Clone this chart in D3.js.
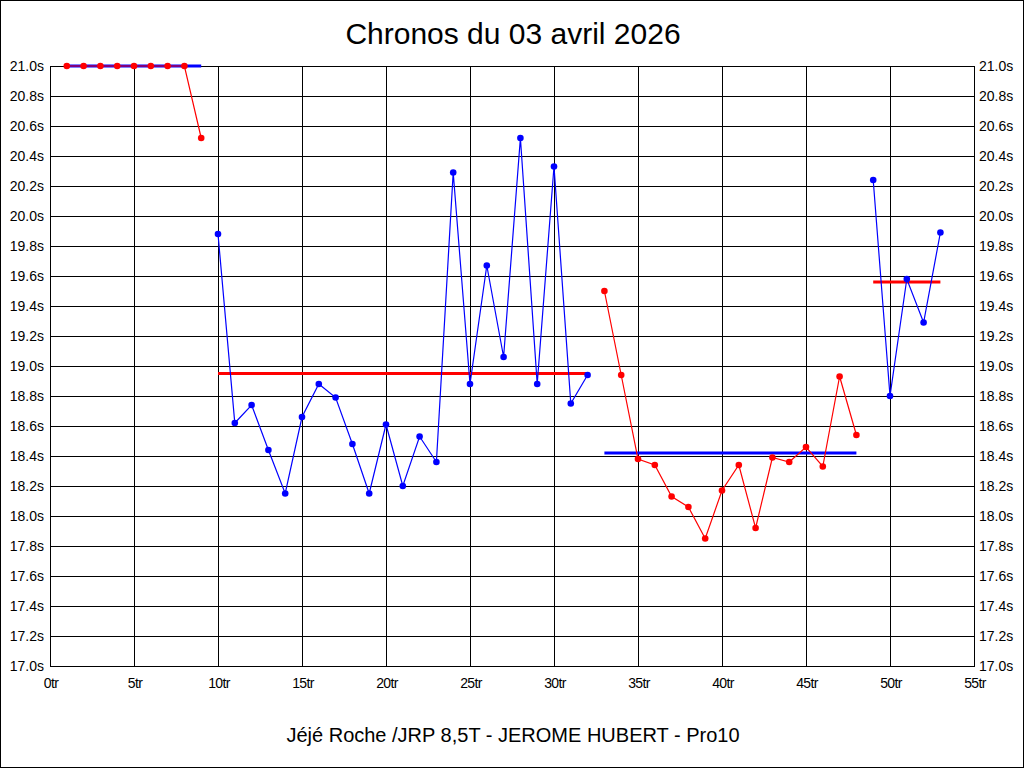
<!DOCTYPE html>
<html>
<head>
<meta charset="utf-8">
<script src="https://cdn.jsdelivr.net/npm/d3@7"></script>
<style>
  html, body { margin: 0; padding: 0; background: #fff; }
  svg { display: block; }
  text { font-family: "Liberation Sans", Arial, sans-serif; fill: #000; }
</style>
</head>
<body>
<svg id="chart" width="1024" height="768"></svg>
<script>
// ---- Data ----
const title = "Chronos du 03 avril 2026";
const subtitle = "Jéjé Roche /JRP 8,5T - JEROME HUBERT - Pro10";

const laps = [1,2,3,4,5,6,7,8,9,10,11,12,13,14,15,16,17,18,19,20,21,22,23,24,25,26,27,28,29,30,31,32,33,34,35,36,37,38,39,40,41,42,43,44,45,46,47,48,49,50,51,52,53];
const lapTimes = [
  21.00, 21.00, 21.00, 21.00, 21.00, 21.00, 21.00, 21.00, 20.52,
  19.88, 18.62, 18.74, 18.44, 18.15, 18.66, 18.88, 18.79, 18.48, 18.15, 18.61, 18.20, 18.53, 18.36,
  20.29, 18.88, 19.67, 19.06, 20.52, 18.88, 20.33, 18.75, 18.94,
  19.50, 18.94, 18.38, 18.34, 18.13, 18.06, 17.85, 18.17, 18.34, 17.92, 18.39, 18.36, 18.46, 18.33, 18.93, 18.54,
  20.24, 18.80, 19.58, 19.29, 19.89
];
// stints (first lap, last lap) and their average line
const stintStart = [1, 10, 33, 49];
const stintEnd   = [9, 32, 48, 53];
const stintAvg   = [21.00, 18.95, 18.42, 19.56];

const xTicks = [0,5,10,15,20,25,30,35,40,45,50,55];
const xTickLabels = ["0tr","5tr","10tr","15tr","20tr","25tr","30tr","35tr","40tr","45tr","50tr","55tr"];
const yTicks = [17.0,17.2,17.4,17.6,17.8,18.0,18.2,18.4,18.6,18.8,19.0,19.2,19.4,19.6,19.8,20.0,20.2,20.4,20.6,20.8,21.0];
const yTickLabels = ["17.0s","17.2s","17.4s","17.6s","17.8s","18.0s","18.2s","18.4s","18.6s","18.8s","19.0s","19.2s","19.4s","19.6s","19.8s","20.0s","20.2s","20.4s","20.6s","20.8s","21.0s"];

// ---- Styles ----
const lineColors = ["#ff0000", "#0000ff"];   // alternating by stint
const avgColors  = ["#0000ff", "#ff0000"];

// ---- Layout ----
const W = 1024, H = 768;
const plot = { left: 50, right: 974, top: 66, bottom: 666 };

const svg = d3.select("#chart");

// outer frame
svg.append("rect").attr("x", 0.5).attr("y", 0.5).attr("width", W - 1).attr("height", H - 1)
  .attr("fill", "#fff").attr("stroke", "#000").attr("stroke-width", 1);

const x = d3.scaleLinear().domain([0, 55]).range([plot.left, plot.right]);
const y = d3.scaleLinear().domain([17.0, 21.0]).range([plot.bottom, plot.top]);

// grid
const g = svg.append("g");
g.selectAll("line.v").data(xTicks).join("line")
  .attr("x1", d => Math.round(x(d)) + 0.5).attr("x2", d => Math.round(x(d)) + 0.5)
  .attr("y1", plot.top).attr("y2", plot.bottom)
  .attr("stroke", "#000").attr("stroke-width", 1);
g.selectAll("line.h").data(yTicks).join("line")
  .attr("y1", d => Math.round(y(d)) + 0.5).attr("y2", d => Math.round(y(d)) + 0.5)
  .attr("x1", plot.left).attr("x2", plot.right + 1)
  .attr("stroke", "#000").attr("stroke-width", 1);

// axes labels via d3 axes (hide domain & ticks, keep text)
const axL = d3.axisLeft(y).tickValues(yTicks).tickFormat((d, i) => yTickLabels[i]).tickSize(0).tickPadding(6);
const axR = d3.axisRight(y).tickValues(yTicks).tickFormat((d, i) => yTickLabels[i]).tickSize(0).tickPadding(5);
const axB = d3.axisBottom(x).tickValues(xTicks).tickFormat((d, i) => xTickLabels[i]).tickSize(0).tickPadding(12);

function styleAxis(sel) {
  sel.select(".domain").remove();
  sel.selectAll("text").attr("font-family", "'Liberation Sans', Arial, sans-serif")
    .attr("font-size", 14).attr("fill", "#000");
}
svg.append("g").attr("transform", `translate(${plot.left},0.5)`).call(axL).call(styleAxis);
svg.append("g").attr("transform", `translate(${plot.right},0.5)`).call(axR).call(styleAxis);
const bx = svg.append("g").attr("transform", `translate(0.5,${plot.bottom})`).call(axB).call(styleAxis);
bx.selectAll("text").attr("letter-spacing", "-0.6px");

// average lines
const avgG = svg.append("g");
stintAvg.forEach((v, i) => {
  avgG.append("line")
    .attr("x1", x(stintStart[i])).attr("x2", x(stintEnd[i]))
    .attr("y1", y(v)).attr("y2", y(v))
    .attr("stroke", avgColors[i % 2]).attr("stroke-width", 3);
});

// series lines + points per stint
const pts = laps.map((l, i) => ({ lap: l, t: lapTimes[i] }));
const line = d3.line().x(d => x(d.lap)).y(d => y(d.t));
stintStart.forEach((s, i) => {
  const seg = pts.filter(p => p.lap >= s && p.lap <= stintEnd[i]);
  const col = lineColors[i % 2];
  svg.append("path").datum(seg).attr("d", line)
    .attr("fill", "none").attr("stroke", col).attr("stroke-width", 1.2);
  svg.append("g").selectAll("circle").data(seg).join("circle")
    .attr("cx", d => x(d.lap)).attr("cy", d => y(d.t)).attr("r", 3.3)
    .attr("fill", col);
});

// titles
svg.append("text").attr("x", 513).attr("y", 44).attr("text-anchor", "middle")
  .attr("font-size", 30).text(title);
svg.append("text").attr("x", 513).attr("y", 742).attr("text-anchor", "middle")
  .attr("font-size", 20).text(subtitle);
</script>
</body>
</html>
